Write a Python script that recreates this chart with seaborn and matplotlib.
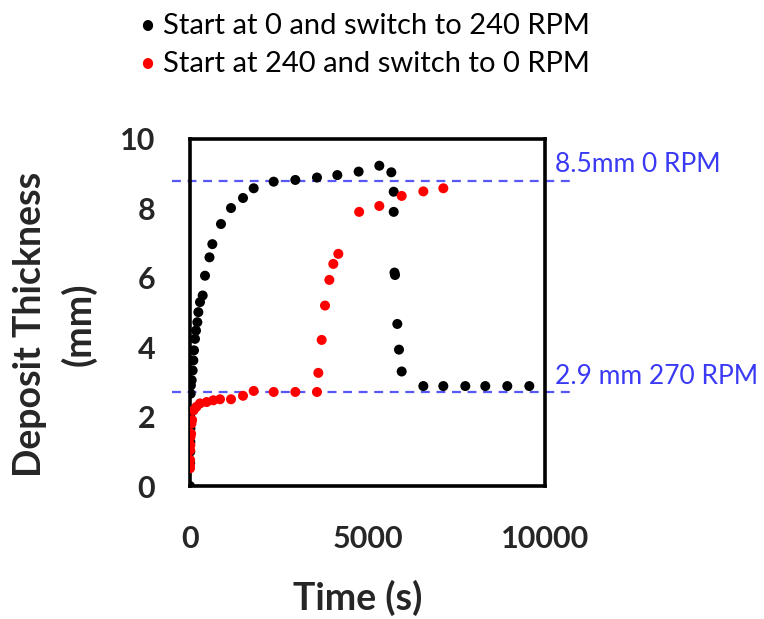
import matplotlib
matplotlib.use("Agg")
import matplotlib.pyplot as plt
import seaborn as sns
import pandas as pd

# Deposit thickness (mm) vs. time (s) for the two rotation-speed switch runs
time_0_to_240 = [0, 5, 8, 10, 12, 15, 20, 25, 47, 75, 94, 113, 141, 169, 207,
                 235, 282, 357, 423, 549, 629, 873, 1155, 1493, 1794, 2357,
                 2967, 3577, 4150, 4750, 5333, 5671, 5738, 5738, 5760, 5775,
                 5840, 5887, 5963, 6573, 7136, 7755, 8318, 8938, 9558]
thick_0_to_240 = [0.0, 0.66, 0.99, 1.27, 1.66, 2.09, 2.66, 2.90, 3.05, 3.33,
                  3.62, 3.91, 4.24, 4.48, 4.72, 5.01, 5.30, 5.49, 6.06, 6.59,
                  6.97, 7.55, 8.01, 8.30, 8.58, 8.77, 8.82, 8.89, 8.96, 9.06,
                  9.23, 9.04, 8.48, 7.90, 6.15, 6.08, 4.67, 3.93, 3.30, 2.88,
                  2.88, 2.88, 2.88, 2.88, 2.88]

time_240_to_0 = [0, 0, 3, 5, 10, 15, 30, 40, 60, 100, 180, 282, 470, 657, 845,
                 1155, 1493, 1794, 2357, 2967, 3577, 3615, 3709, 3803, 3925,
                 4037, 4178, 4765, 5333, 5963, 6573, 7136]
thick_240_to_0 = [0.51, 0.60, 0.75, 1.03, 1.18, 1.42, 1.51, 1.80, 1.90, 2.18,
                  2.28, 2.38, 2.42, 2.47, 2.50, 2.50, 2.60, 2.74, 2.71, 2.71,
                  2.71, 3.26, 4.21, 5.20, 5.94, 6.40, 6.69, 7.90, 8.07, 8.36,
                  8.49, 8.58]

series_names = ["Start at 0 and switch to 240 RPM",
                "Start at 240 and switch to 0 RPM"]
series_colors = ["black", "red"]

# Steady-state reference levels
ref_levels = [8.8, 2.7]
ref_labels = ["8.5mm 0 RPM", "2.9 mm 270 RPM"]

df = pd.concat([
    pd.DataFrame({"Time": time_0_to_240, "Thickness": thick_0_to_240,
                  "Run": series_names[0]}),
    pd.DataFrame({"Time": time_240_to_0, "Thickness": thick_240_to_0,
                  "Run": series_names[1]}),
], ignore_index=True)

sns.set_style("white")
plt.rcParams["font.family"] = ["Lato", "DejaVu Sans"]

fig = plt.figure(figsize=(7.64, 6.19), dpi=100)
ax = fig.add_axes([190 / 764, 1 - 486 / 619, 355 / 764, 347 / 619])

sns.scatterplot(data=df, x="Time", y="Thickness", hue="Run",
                palette=dict(zip(series_names, series_colors)),
                s=52, edgecolor="none", legend=False, ax=ax, zorder=3)

blue = "#3a3af5"
for lvl, lab in zip(ref_levels, ref_labels):
    ax.plot([-500, 10800], [lvl, lvl], ls=(0, (4, 3)), lw=1.6, color=blue,
            alpha=0.85, clip_on=False, zorder=2)
    ax.text(10280, lvl + 0.1, lab, color=blue, fontsize=19,
            ha="left", va="bottom", clip_on=False)

ax.set_xlim(0, 10000)
ax.set_ylim(0, 10)
ax.set_xticks([0, 5000, 10000])
ax.set_yticks([0, 2, 4, 6, 8, 10])
ax.tick_params(direction="in", length=9, width=1.5, color="black",
               labelsize=22)
ax.tick_params(axis="x", pad=28)
ax.tick_params(axis="y", pad=25)
for lbl in ax.get_xticklabels() + ax.get_yticklabels():
    lbl.set_fontweight("bold")
for sp in ax.spines.values():
    sp.set_visible(True)
    sp.set_color("black")
    sp.set_linewidth(2.6)

ax.set_xlabel("Time (s)", fontsize=27, fontweight="bold", va="center")
ax.xaxis.set_label_coords(0.473, -0.323)
ax.set_ylabel("Deposit Thickness\n(mm)", fontsize=27, fontweight="bold",
              va="center", linespacing=1.45)
ax.yaxis.set_label_coords(-0.38, 0.467)

# Bullet-style key above the plot
for i, (name, col) in enumerate(zip(series_names, series_colors)):
    yy = 1 - (26 + 38 * i) / 619
    fig.text(147 / 764, yy, "\u2022", color=col, fontsize=20,
             ha="center", va="center")
    fig.text(163 / 764, yy, name, color="black", fontsize=21,
             ha="left", va="center")

fig.savefig("out.png", dpi=100)
